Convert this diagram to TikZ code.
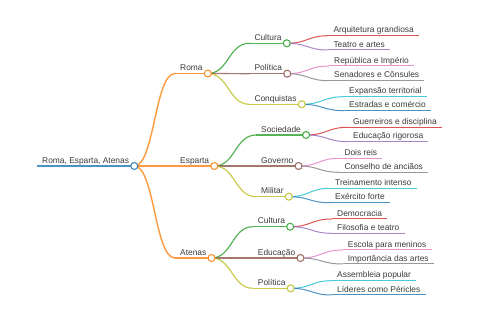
\documentclass[tikz,border=0pt]{standalone}
\usepackage{fontspec}
\setmainfont{Liberation Sans}
\usetikzlibrary{calc}
\definecolor{cblue}{HTML}{1F77B4}
\definecolor{corange}{HTML}{FF7F0E}
\definecolor{cgreen}{HTML}{2CA02C}
\definecolor{cred}{HTML}{D62728}
\definecolor{cpurple}{HTML}{9467BD}
\definecolor{cbrown}{HTML}{8C564B}
\definecolor{cpink}{HTML}{E377C2}
\definecolor{cgray}{HTML}{7F7F7F}
\definecolor{colive}{HTML}{BCBD22}
\definecolor{ccyan}{HTML}{17BECF}
\definecolor{txt}{HTML}{3A3A3A}
\tikzset{
  mm/.style={anchor=south west, inner xsep=5pt, inner ysep=1.5pt, text height=6pt, text depth=1pt,
    font=\fontsize{8.4}{10}\selectfont, text=txt},
  dot/.style={circle, draw, fill=white, line width=1.1pt, minimum size=7pt, inner sep=0pt, draw opacity=0.85},
  ln/.style={draw opacity=0.8},
}
% name, x, y, color, width, text
\newcommand{\mmn}[6]{%
  \node[mm] (#1) at (#2,-#3) {#6};
  \draw[ln, #4, line width=#5] (#1.south west) -- (#1.south east);}
% parent, child, color, width
\newcommand{\mml}[4]{%
  \coordinate (m-#2) at ($(#1.south east)!0.5!(#2.south west)$);
  \draw[ln, #3, line width=#4] (#1.south east) .. controls (m-#2 |- #1.south east) and (m-#2 |- #2.south west) .. (#2.south west);}
\newcommand{\mmc}[2]{\node[dot, draw=#2] at (#1.south east) {};}
\begin{document}
\begin{tikzpicture}[x=1pt,y=1pt]
\useasboundingbox (0,0) rectangle (480,-320);
% root
\mmn{root}{37}{166}{cblue}{1.8pt}{Roma, Esparta, Atenas}
% depth 1
\mmn{roma}{175}{73.5}{corange}{1.4pt}{Roma}
\mmn{esp}{175}{166}{corange}{1.4pt}{Esparta}
\mmn{ate}{175}{258}{corange}{1.4pt}{Atenas}
% depth 2
\mmn{rcul}{249.3}{43.3}{cgreen}{1.2pt}{Cultura}
\mmn{rpol}{249.3}{73.7}{cbrown}{1.2pt}{Política}
\mmn{rcon}{249.3}{104.3}{colive}{1.2pt}{Conquistas}
\mmn{esoc}{256}{135}{cgreen}{1.2pt}{Sociedade}
\mmn{egov}{256}{166}{cbrown}{1.2pt}{Governo}
\mmn{emil}{256}{196.7}{colive}{1.2pt}{Militar}
\mmn{acul}{252.7}{226.7}{cgreen}{1.2pt}{Cultura}
\mmn{aedu}{252.7}{258}{cbrown}{1.2pt}{Educação}
\mmn{apol}{252.7}{288.3}{colive}{1.2pt}{Política}
% depth 3
\mmn{r1}{328.3}{35.7}{cred}{1pt}{Arquitetura grandiosa}
\mmn{r2}{328.3}{50}{cpurple}{1pt}{Teatro e artes}
\mmn{r3}{329}{66}{cpink}{1pt}{República e Império}
\mmn{r4}{329}{80.7}{cgray}{1pt}{Senadores e Cônsules}
\mmn{r5}{344}{96.7}{ccyan}{1pt}{Expansão territorial}
\mmn{r6}{344}{110.7}{cblue}{1pt}{Estradas e comércio}
\mmn{e1}{348}{127.3}{cred}{1pt}{Guerreiros e disciplina}
\mmn{e2}{348}{141.7}{cpurple}{1pt}{Educação rigorosa}
\mmn{e3}{339.3}{158.3}{cpink}{1pt}{Dois reis}
\mmn{e4}{339.3}{172.3}{cgray}{1pt}{Conselho de anciãos}
\mmn{e5}{330}{188.3}{ccyan}{1pt}{Treinamento intenso}
\mmn{e6}{330}{202.7}{cblue}{1pt}{Exército forte}
\mmn{a1}{332}{219}{cred}{1pt}{Democracia}
\mmn{a2}{332}{233.3}{cpurple}{1pt}{Filosofia e teatro}
\mmn{a3}{342.7}{250}{cpink}{1pt}{Escola para meninos}
\mmn{a4}{342.7}{264}{cgray}{1pt}{Importância das artes}
\mmn{a5}{332}{280.7}{ccyan}{1pt}{Assembleia popular}
\mmn{a6}{332}{295}{cblue}{1pt}{Líderes como Péricles}
% links
\mml{root}{roma}{corange}{1.4pt}
\mml{root}{esp}{corange}{1.4pt}
\mml{root}{ate}{corange}{1.4pt}
\mml{roma}{rcul}{cgreen}{1.2pt}
\mml{roma}{rpol}{cbrown}{1.2pt}
\mml{roma}{rcon}{colive}{1.2pt}
\mml{esp}{esoc}{cgreen}{1.2pt}
\mml{esp}{egov}{cbrown}{1.2pt}
\mml{esp}{emil}{colive}{1.2pt}
\mml{ate}{acul}{cgreen}{1.2pt}
\mml{ate}{aedu}{cbrown}{1.2pt}
\mml{ate}{apol}{colive}{1.2pt}
\mml{rcul}{r1}{cred}{1pt}
\mml{rcul}{r2}{cpurple}{1pt}
\mml{rpol}{r3}{cpink}{1pt}
\mml{rpol}{r4}{cgray}{1pt}
\mml{rcon}{r5}{ccyan}{1pt}
\mml{rcon}{r6}{cblue}{1pt}
\mml{esoc}{e1}{cred}{1pt}
\mml{esoc}{e2}{cpurple}{1pt}
\mml{egov}{e3}{cpink}{1pt}
\mml{egov}{e4}{cgray}{1pt}
\mml{emil}{e5}{ccyan}{1pt}
\mml{emil}{e6}{cblue}{1pt}
\mml{acul}{a1}{cred}{1pt}
\mml{acul}{a2}{cpurple}{1pt}
\mml{aedu}{a3}{cpink}{1pt}
\mml{aedu}{a4}{cgray}{1pt}
\mml{apol}{a5}{ccyan}{1pt}
\mml{apol}{a6}{cblue}{1pt}
% circles
\mmc{root}{cblue}
\mmc{roma}{corange}\mmc{esp}{corange}\mmc{ate}{corange}
\mmc{rcul}{cgreen}\mmc{rpol}{cbrown}\mmc{rcon}{colive}
\mmc{esoc}{cgreen}\mmc{egov}{cbrown}\mmc{emil}{colive}
\mmc{acul}{cgreen}\mmc{aedu}{cbrown}\mmc{apol}{colive}
\end{tikzpicture}
\end{document}
